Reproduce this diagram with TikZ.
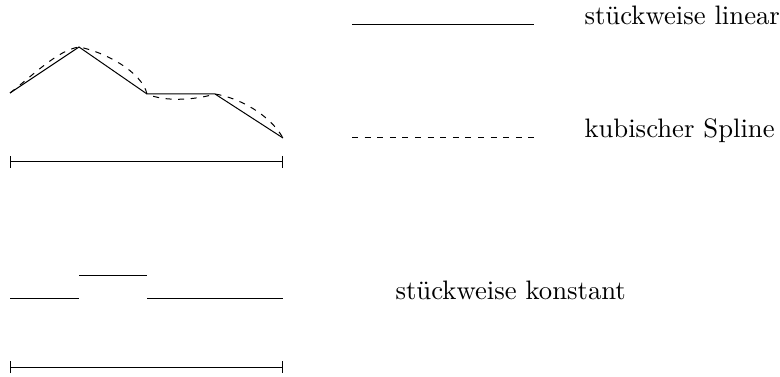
\documentclass[tikz,border=0pt]{standalone}
\usetikzlibrary{arrows.meta}
\begin{document}
\begin{tikzpicture}[x=1pt,y=-1pt,
  curve/.style={line width=1pt},
  spline/.style={line width=1pt,dash pattern=on 6pt off 6.6pt},
  label/.style={anchor=base west,inner sep=0pt,scale=2.67},
  scalebar/.style={line width=1pt,{Bar[width=12pt]}-{Bar[width=12pt]}}]
\useasboundingbox (0,0) rectangle (780,377);
% knots
\coordinate (p0) at (10,93);
\coordinate (p1) at (79,47);
\coordinate (p2) at (147,94);
\coordinate (p3) at (215,94);
\coordinate (p4) at (283,138);
% piecewise linear
\draw[curve] (p0) -- (p1) -- (p2) -- (p3) -- (p4);
% cubic spline
\draw[spline] (p0) .. controls (32,76) and (58,50) .. (p1)
  .. controls (105,52) and (142,72) .. (p2)
  .. controls (165,102) and (195,100) .. (p3)
  .. controls (240,98) and (270,115) .. (p4);
% scale bars
\coordinate (a1) at (10,162);
\coordinate (b1) at (283,162);
\draw[scalebar] (a1) -- (b1);
\coordinate (a2) at (10,367);
\coordinate (b2) at (283,367);
\draw[scalebar] (a2) -- (b2);
% piecewise constant
\coordinate (c0) at (10,298);
\coordinate (c1) at (79,298);
\coordinate (c2) at (79,275);
\coordinate (c3) at (147,275);
\coordinate (c4) at (147,298);
\coordinate (c5) at (283,298);
\draw[curve] (c0) -- (c1);
\draw[curve] (c2) -- (c3);
\draw[curve] (c4) -- (c5);
% legend
\coordinate (l1a) at (352,25);
\coordinate (l1b) at (534,25);
\draw[curve] (l1a) -- (l1b);
\coordinate (l2a) at (352,138);
\coordinate (l2b) at (534,138);
\draw[spline] (l2a) -- (l2b);
\node[label] (tlin) at (584,25) {st\"uckweise linear};
\node[label] (tspl) at (584,138) {kubischer Spline};
\node[label] (tkon) at (395,299) {st\"uckweise konstant};
\end{tikzpicture}
\end{document}
